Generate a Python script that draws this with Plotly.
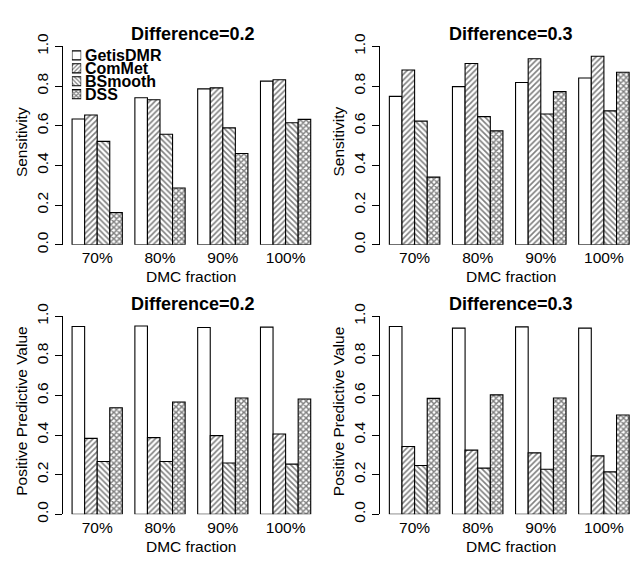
import plotly.graph_objects as go

# ---------------- data ----------------
fractions = ["70%", "80%", "90%", "100%"]
methods = ["GetisDMR", "ComMet", "BSmooth", "DSS"]

sens_d02_getis = [0.634, 0.741, 0.786, 0.825]
sens_d02_commet = [0.654, 0.731, 0.791, 0.832]
sens_d02_bsmooth = [0.521, 0.557, 0.589, 0.615]
sens_d02_dss = [0.162, 0.286, 0.460, 0.632]

sens_d03_getis = [0.748, 0.797, 0.818, 0.841]
sens_d03_commet = [0.881, 0.914, 0.938, 0.950]
sens_d03_bsmooth = [0.623, 0.646, 0.659, 0.675]
sens_d03_dss = [0.341, 0.574, 0.772, 0.870]

ppv_d02_getis = [0.948, 0.951, 0.943, 0.945]
ppv_d02_commet = [0.383, 0.387, 0.397, 0.405]
ppv_d02_bsmooth = [0.266, 0.266, 0.259, 0.253]
ppv_d02_dss = [0.538, 0.567, 0.587, 0.582]

ppv_d03_getis = [0.948, 0.940, 0.946, 0.940]
ppv_d03_commet = [0.342, 0.324, 0.310, 0.295]
ppv_d03_bsmooth = [0.246, 0.233, 0.227, 0.214]
ppv_d03_dss = [0.585, 0.603, 0.587, 0.501]

panel_titles = ["Difference=0.2", "Difference=0.3", "Difference=0.2", "Difference=0.3"]
panel_ylabels = ["Sensitivity", "Sensitivity", "Positive Predictive Value", "Positive Predictive Value"]
xlabel = "DMC fraction"
y_ticks = [0.0, 0.2, 0.4, 0.6, 0.8, 1.0]
y_ticktext = ["0.0", "0.2", "0.4", "0.6", "0.8", "1.0"]

panel_data = [
    [sens_d02_getis, sens_d02_commet, sens_d02_bsmooth, sens_d02_dss],
    [sens_d03_getis, sens_d03_commet, sens_d03_bsmooth, sens_d03_dss],
    [ppv_d02_getis, ppv_d02_commet, ppv_d02_bsmooth, ppv_d02_dss],
    [ppv_d03_getis, ppv_d03_commet, ppv_d03_bsmooth, ppv_d03_dss],
]

# ---------------- styling / layout ----------------
W, H = 631, 562
FONT = "Liberation Sans, Arial, Helvetica, sans-serif"
patterns = ["", "/", "\\", "x"]
pat_solidity = [0.3, 0.4, 0.4, 0.6]
PAT_SIZE = 4.0


def fx(p):
    return p / W


def fy(p):
    return 1 - p / H


# per panel: axis px, first group centre px, slot px, domain right px, y top px, y bottom px
panels = [
    dict(axis=62.9, c0=97.2, slot=62.8, right=318.0, top=34.7, bot=240.7),
    dict(axis=380.3, c0=414.6, slot=63.1, right=631.0, top=34.7, bot=240.7),
    dict(axis=62.9, c0=97.2, slot=62.8, right=318.0, top=315.0, bot=520.7),
    dict(axis=380.3, c0=414.6, slot=63.1, right=631.0, top=315.0, bot=520.7),
]

fig = go.Figure()
annotations = []

for i, (pd_, vals) in enumerate(zip(panels, panel_data)):
    n = "" if i == 0 else str(i + 1)
    for m, v, pat, sol in zip(methods, vals, patterns, pat_solidity):
        fig.add_trace(go.Bar(
            x=list(range(len(fractions))), y=v, name=m,
            xaxis="x" + n, yaxis="y" + n, showlegend=False,
            marker=dict(color="white", line=dict(color="black", width=1.1),
                        pattern=dict(shape=pat, fgcolor="black", bgcolor="white",
                                     size=PAT_SIZE, solidity=sol)),
        ))
    r0 = -(pd_["c0"] - pd_["axis"]) / pd_["slot"]
    r1 = r0 + (pd_["right"] - pd_["axis"]) / pd_["slot"]
    fig.layout["xaxis" + n] = dict(
        domain=[fx(pd_["axis"]), fx(pd_["right"])], range=[r0, r1],
        anchor="y" + n, tickmode="array", tickvals=list(range(len(fractions))),
        ticktext=fractions, showline=False, ticks="", showgrid=False, zeroline=False,
        tickfont=dict(family=FONT, size=15.5, color="black"), ticklabelstandoff=2,
    )
    fig.layout["yaxis" + n] = dict(
        domain=[fy(pd_["bot"]), fy(pd_["top"])], range=[0, 1],
        anchor="x" + n, tickmode="array", tickvals=y_ticks, ticktext=y_ticktext,
        showline=True, linecolor="black", linewidth=1, ticks="outside", ticklen=7,
        tickcolor="black", tickwidth=1, tickangle=-90, showgrid=False, zeroline=False,
        tickfont=dict(family=FONT, size=15.5, color="black"), ticklabelstandoff=1,
    )
    # title
    annotations.append(dict(text="<b>" + panel_titles[i] + "</b>", xref="paper", yref="paper",
                            x=fx(192.8 + (i % 2) * 318.4), y=fy(pd_["top"] - 13.0),
                            xanchor="center", yanchor="middle", showarrow=False,
                            font=dict(family=FONT, size=18, color="black")))
    # x label
    annotations.append(dict(text=xlabel, xref="paper", yref="paper",
                            x=fx(191.0 + (i % 2) * 320.0), y=fy(pd_["bot"] + 33.3),
                            xanchor="center", yanchor="middle", showarrow=False,
                            font=dict(family=FONT, size=15.5, color="black")))
    # y label
    annotations.append(dict(text=panel_ylabels[i], xref="paper", yref="paper",
                            x=fx(pd_["axis"] - 41.5), y=fy((pd_["top"] + pd_["bot"]) / 2 - 4),
                            xanchor="center", yanchor="middle", showarrow=False, textangle=-90,
                            font=dict(family=FONT, size=15.5, color="black")))

# ---------------- legend (inside top-left panel) ----------------
leg_top, leg_pitch = 37.3, 13.43
fig.add_trace(go.Bar(
    y=methods, x=[1] * len(methods), orientation="h", width=0.7,
    xaxis="x5", yaxis="y5", showlegend=False, hoverinfo="skip",
    marker=dict(color="white", line=dict(color="black", width=1.1),
                pattern=dict(shape=patterns, fgcolor="black", bgcolor="white",
                             size=3.0, solidity=pat_solidity)),
))
fig.layout["xaxis5"] = dict(domain=[fx(71.9), fx(81.2)], range=[0, 1], anchor="y5",
                            visible=False, fixedrange=True)
fig.layout["yaxis5"] = dict(domain=[fy(leg_top + leg_pitch * len(methods)), fy(leg_top)],
                            anchor="x5", visible=False, autorange="reversed",
                            categoryorder="array", categoryarray=methods, fixedrange=True)
for k, m in enumerate(methods):
    annotations.append(dict(text="<b>" + m + "</b>", xref="paper", yref="paper",
                            x=fx(82.5), y=fy(leg_top + leg_pitch * (k + 0.5)),
                            xanchor="left", yanchor="middle", showarrow=False,
                            font=dict(family=FONT, size=16, color="black")))

fig.update_layout(
    width=W, height=H, margin=dict(l=0, r=0, t=0, b=0),
    paper_bgcolor="white", plot_bgcolor="white",
    barmode="group", bargap=0.2, bargroupgap=0,
    annotations=annotations, showlegend=False,
    font=dict(family=FONT, color="black"),
)

fig.write_html("out.html")
